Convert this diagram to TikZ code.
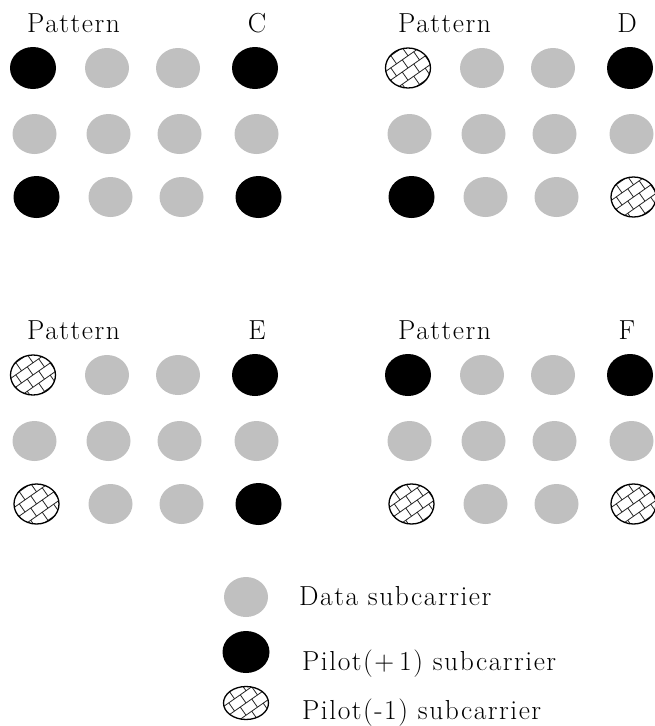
\documentclass[tikz,border=0pt]{standalone}
\usepackage{fontspec}
\setmainfont[LetterSpace=5.5]{Latin Modern Roman}
\usetikzlibrary{shapes.geometric,calc}
\definecolor{datagray}{RGB}{192,192,192}
\tikzset{
  lbl/.style={inner sep=0pt, font=\fontsize{27.5}{33}\selectfont, text=black},
  datc/.style={ellipse, fill=datagray, inner sep=0pt, minimum width=44pt, minimum height=40pt},
  plusc/.style={ellipse, fill=black, inner sep=0pt, minimum width=46pt, minimum height=42pt},
  minusc/.style={ellipse, draw=black, line width=1.3pt, fill=white, inner sep=0pt,
    minimum width=45pt, minimum height=40pt,
    path picture={
      \coordinate (hc) at (path picture bounding box.center);
      \foreach \j in {-3,...,3}{
        \draw[line width=0.8pt, black!85]
          ($(hc)+(35:-34pt)+(125:\j*10pt)$) -- ($(hc)+(35:34pt)+(125:\j*10pt)$);
      }
      \foreach \j in {-3,...,2}{
        \foreach \i in {-3,...,3}{
          \pgfmathsetmacro\aa{\i*14+mod(\j+10,2)*7}
          \draw[line width=0.8pt, black!85]
            ($(hc)+(35:\aa pt)+(125:\j*10pt)$) -- ($(hc)+(35:\aa pt)+(125:\j*10pt+10pt)$);
        }
      }
    }},
}
\begin{document}
\begin{tikzpicture}[x=1pt, y=-1pt]
\useasboundingbox (0,0) rectangle (655,726);
% grids
\foreach \P/\dx/\dy/\types in {
  C/0/0/{plusc,datc,datc,plusc,datc,datc,datc,datc,plusc,datc,datc,plusc},
  D/375/0/{minusc,datc,datc,plusc,datc,datc,datc,datc,plusc,datc,datc,minusc},
  E/0/307/{minusc,datc,datc,plusc,datc,datc,datc,datc,minusc,datc,datc,plusc},
  F/375/307/{plusc,datc,datc,plusc,datc,datc,datc,datc,minusc,datc,datc,minusc}}{
  \foreach \t [count=\k from 0] in \types {
    \pgfmathtruncatemacro\r{int(\k/4)}
    \pgfmathtruncatemacro\c{mod(\k,4)}
    \pgfmathsetmacro\xx{{33,107,178,255}[\c]+{0,1.5,3.5}[\r]+\dx}
    \pgfmathsetmacro\yy{{68,134,197}[\r]+\dy}
    \node[\t] (\P\r\c) at (\xx,\yy) {};
  }
}
% titles
\node[lbl, anchor=base west] (tC) at (27,32) {Pattern};
\node[lbl, anchor=base] (lC) at (257,32) {C};
\node[lbl, anchor=base west] (tD) at (398,32) {Pattern};
\node[lbl, anchor=base] (lD) at (627,32) {D};
\node[lbl, anchor=base west] (tE) at (27,339) {Pattern};
\node[lbl, anchor=base] (lE) at (257,339) {E};
\node[lbl, anchor=base west] (tF) at (398,339) {Pattern};
\node[lbl, anchor=base] (lF) at (627,339) {F};
% legend
\node[datc] (gdat) at (246,597) {};
\node[plusc, minimum width=47pt] (gplus) at (246,652) {};
\node[minusc, minimum width=45pt, minimum height=33pt] (gminus) at (246,703) {};
\node[lbl, anchor=base west] (ldat) at (299,605) {Data subcarrier};
\node[lbl, anchor=base west] (lplus) at (302,670) {Pilot(+\hspace{5pt}1) subcarrier};
\node[lbl, anchor=base west] (lminus) at (302,719) {Pilot(-1) subcarrier};
\end{tikzpicture}
\end{document}
